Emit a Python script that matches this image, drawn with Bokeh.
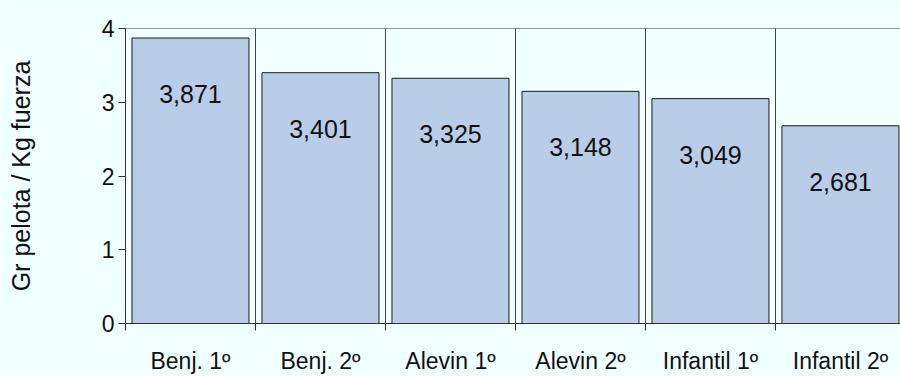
from bokeh.plotting import figure
from bokeh.models import ColumnDataSource, FixedTicker, Range1d, Span, LabelSet
from bokeh.core.properties import value
from bokeh.embed import file_html
from bokeh.resources import INLINE

# Ball grams per kilogram of strength, by age category
categories = ["Benj. 1º", "Benj. 2º", "Alevin 1º", "Alevin 2º", "Infantil 1º", "Infantil 2º"]
ratios = [3.871, 3.401, 3.325, 3.148, 3.049, 2.681]
value_labels = ["3,871", "3,401", "3,325", "3,148", "3,049", "2,681"]
y_ticks = [0, 1, 2, 3, 4]

centers = [i + 0.5 for i in range(len(categories))]
boundaries = list(range(len(categories) + 1))

src = ColumnDataSource(dict(x=centers, top=ratios, label=value_labels))

BG = "#F0FFFF"
FONT = "Liberation Sans"

p = figure(width=900, height=376, output_backend="svg", toolbar_location=None,
           x_range=Range1d(0, 5.962), y_range=Range1d(0, 4),
           min_border_left=125, min_border_right=0, min_border_top=28, min_border_bottom=53)
p.background_fill_color = BG
p.border_fill_color = BG
p.outline_line_color = None

p.vbar(x="x", top="top", width=0.9, bottom=0, source=src,
       fill_color="#B9CDE8", line_color="#1a1a1a", line_width=1)

p.add_layout(LabelSet(x="x", y="top", text="label", source=src,
                      text_align="center", text_baseline="middle", y_offset=-56,
                      text_font=value(FONT), text_font_size=value("25px"),
                      text_color="#111111"))

# top border of the plotting area
p.add_layout(Span(location=4, dimension="width", line_color="#333333", line_width=1))

# x axis: labels at category centres, tick marks at category boundaries
xa = p.xaxis[0]
xa.ticker = FixedTicker(ticks=centers, minor_ticks=boundaries)
xa.major_label_overrides = {c: name for c, name in zip(centers, categories)}
xa.major_tick_out = 0
xa.major_tick_in = 0
xa.minor_tick_out = 7
xa.minor_tick_in = 0
xa.minor_tick_line_color = "#333333"
xa.axis_line_color = "#333333"
xa.major_label_standoff = 17
xa.major_label_text_font = FONT
xa.major_label_text_font_size = "23px"
xa.major_label_text_color = "#111111"

ya = p.yaxis[0]
ya.ticker = FixedTicker(ticks=y_ticks)
ya.minor_tick_line_color = None
ya.major_tick_out = 7
ya.major_tick_in = 0
ya.major_tick_line_color = "#333333"
ya.axis_line_color = "#333333"
ya.major_label_standoff = 4
ya.major_label_text_font = FONT
ya.major_label_text_font_size = "23px"
ya.major_label_text_color = "#111111"
ya.axis_label = "Gr pelota / Kg fuerza"
ya.axis_label_text_font = FONT
ya.axis_label_text_font_size = "25px"
ya.axis_label_text_font_style = "normal"
ya.axis_label_text_color = "#111111"
ya.axis_label_standoff = 64

# vertical separators between categories
p.xgrid.ticker = FixedTicker(ticks=boundaries)
p.xgrid.grid_line_color = "#444444"
p.xgrid.grid_line_width = 1
p.ygrid.grid_line_color = None

open("out.html", "w").write(file_html(p, INLINE))
